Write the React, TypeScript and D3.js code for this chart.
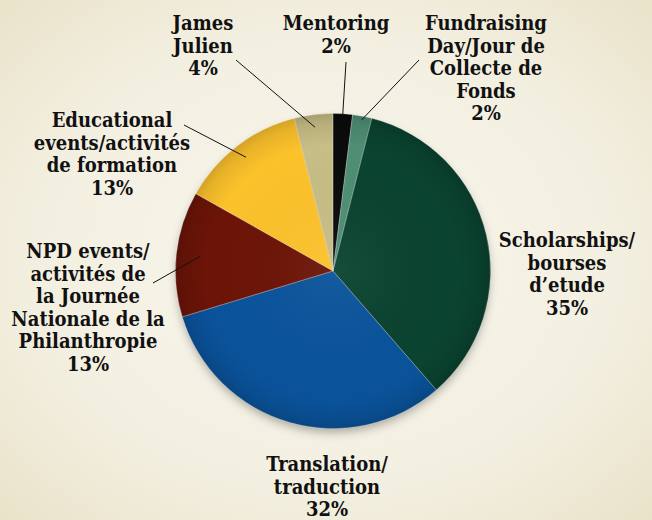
import React from "react";
import * as d3 from "d3";

const categories = ["Mentoring", "Fundraising", "Scholarships", "Translation", "NPD", "Educational", "James Julien"];
const values = [2, 2, 35, 32, 13, 13, 4];
const labelLines = [
  ["Mentoring", "2%"],
  ["Fundraising", "Day/Jour de", "Collecte de", "Fonds", "2%"],
  ["Scholarships/", "bourses", "d\u2019etude", "35%"],
  ["Translation/", "traduction", "32%"],
  ["NPD events/", "activités de", "la Journée", "Nationale de la", "Philanthropie", "13%"],
  ["Educational", "events/activités", "de formation", "13%"],
  ["James", "Julien", "4%"],
];
const colors = ["#0b0b0b", "#4f8e74", "#0a4330", "#0a539b", "#6c1407", "#fcc22c", "#c7bd86"];

// layout: label anchor (center x, first baseline y), leader line start, leader inner radius fraction
const labelPos: [number, number][] = [
  [336, 30], [486, 30], [567, 247], [327, 471], [88, 258], [112, 127], [203, 30],
];
const leaderStart: ([number, number] | null)[] = [
  [346, 62], [419, 60], null, null, [153, 283], [184, 125], [236, 60],
];
const leaderR = [0.975, 0.975, 0, 0, 0.85, 0.91, 0.92];

const W = 652, H = 520;
const cx = 333, cy = 271, R = 157.5;
const lineH = 22.6;

export default function App() {
  const pie = d3.pie<number>().sort(null).value((d) => d)(values);
  const arc = d3.arc<d3.PieArcDatum<number>>().innerRadius(0).outerRadius(R);
  return (
    <svg width={W} height={H} style={{ position: "absolute", left: 0, top: 0 }}>
      <defs>
        <radialGradient id="bg" cx="50%" cy="50%" r="75%">
          <stop offset="0%" stopColor="#f8f6ee" />
          <stop offset="60%" stopColor="#f3efe0" />
          <stop offset="100%" stopColor="#e8e1c6" />
        </radialGradient>
        <radialGradient id="shade" cx="50%" cy="50%" r="50%">
          <stop offset="0%" stopColor="#fff" stopOpacity="0.05" />
          <stop offset="80%" stopColor="#000" stopOpacity="0" />
          <stop offset="94%" stopColor="#000" stopOpacity="0.08" />
          <stop offset="100%" stopColor="#000" stopOpacity="0.16" />
        </radialGradient>
        <filter id="ds" x="-20%" y="-20%" width="140%" height="140%">
          <feDropShadow dx="0" dy="5" stdDeviation="5" floodColor="#000" floodOpacity="0.3" />
        </filter>
      </defs>
      <rect width={W} height={H} fill="url(#bg)" />
      <g transform={`translate(${cx},${cy})`}>
        <circle r={R - 1} fill="#666" filter="url(#ds)" />
        {pie.map((p, i) => (
          <path key={categories[i]} d={arc(p) || ""} fill={colors[i]} />
        ))}
        <circle r={R} fill="url(#shade)" />
        {pie.map((p, i) => (
          <path key={"e" + i} d={arc(p) || ""} fill="none" stroke="#fff" strokeOpacity={0.3} strokeWidth={0.7} />
        ))}
      </g>
      {pie.map((p, i) => {
        const s = leaderStart[i];
        if (!s) return null;
        const a = (p.startAngle + p.endAngle) / 2;
        const r = R * leaderR[i];
        const x2 = cx + r * Math.sin(a);
        const y2 = cy - r * Math.cos(a);
        return <line key={"l" + i} x1={s[0]} y1={s[1]} x2={x2} y2={y2} stroke="#111" strokeWidth={1} />;
      })}
      {labelLines.map((lines, i) => (
        <text
          key={"t" + i}
          x={labelPos[i][0]}
          y={labelPos[i][1]}
          textAnchor="middle"
          fontFamily="'DejaVu Serif Condensed', 'DejaVu Serif'"
          fontStretch="condensed"
          fontWeight="bold"
          fontSize={20}
          fill="#111"
        >
          {lines.map((ln, j) => (
            <tspan key={j} x={labelPos[i][0]} dy={j === 0 ? 0 : lineH}>
              {ln}
            </tspan>
          ))}
        </text>
      ))}
    </svg>
  );
}
